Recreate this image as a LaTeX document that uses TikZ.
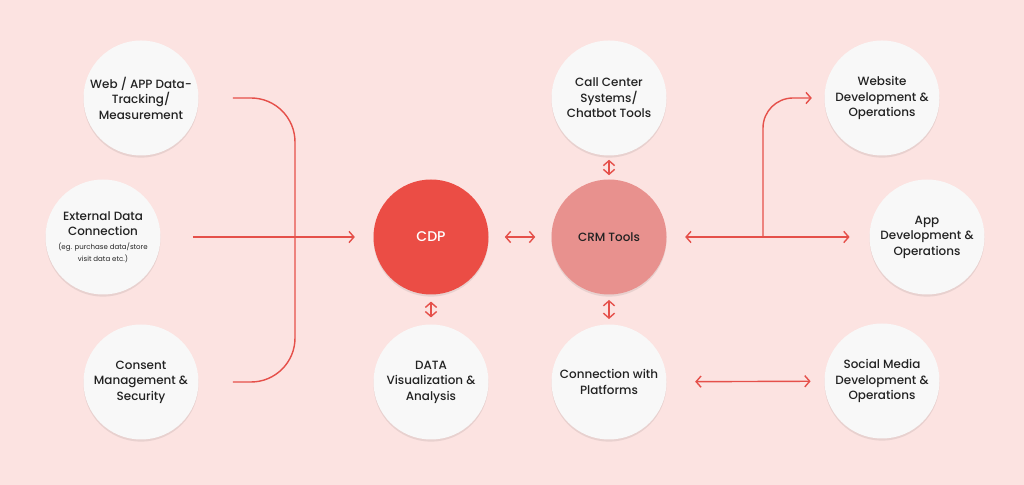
\documentclass[tikz,border=0pt]{standalone}
\usepackage{fontspec}
\setmainfont{Poppins}[BoldFont={Poppins Medium}]
\definecolor{bgpink}{HTML}{FCE3E1}
\definecolor{cdpred}{HTML}{EB4D45}
\definecolor{crmpink}{HTML}{E8918E}
\definecolor{linered}{HTML}{E5504A}
\definecolor{bubblewhite}{HTML}{F8F8F8}
\definecolor{textdark}{HTML}{222222}
\usetikzlibrary{arrows.meta, positioning, shadows}
\tikzstyle{arrow} = [
  <->, >={Straight Barb[length=3.5pt,width=8pt]}, line width=1pt, color=linered
]
\tikzstyle{line} = [line width=1pt, color=linered]

\begin{document}
\begin{tikzpicture}[
  every node/.style={font=\fontsize{8.5}{11}\selectfont\bfseries, text=textdark},
  bubble/.style={circle, fill=bubblewhite, minimum size=2.875cm, inner sep=0pt,
                 align=center,
                 drop shadow={shadow xshift=0pt, shadow yshift=-1.5pt,
                              opacity=0.08, fill=black}},
  cdpbubble/.style={bubble, fill=cdpred, text=white,
                    font=\fontsize{10}{12}\selectfont\bfseries},
  crmbubble/.style={bubble, fill=crmpink},
  small/.style={font=\fontsize{5}{6.5}\selectfont},
]
  \fill[bgpink] (0,0) rectangle (25.6,12.125);
  \useasboundingbox (0,0) rectangle (25.6,12.125);

  % sources
  \node[bubble] (web)     at (3.525,9.675) {Web / APP Data-\\Tracking/\\Measurement};
  \node[bubble] (ext)     at (2.575,6.2)   {External Data\\Connection\\[-1pt]
    {\fontsize{5}{6.5}\selectfont\mdseries (eg. purchase data/store}\\[-3pt]
    {\fontsize{5}{6.5}\selectfont\mdseries visit data etc.)}};
  \node[bubble] (consent) at (3.525,2.575) {Consent\\Management \&\\Security};

  % core
  \node[cdpbubble] (cdp)     at (10.775,6.2)  {CDP};
  \node[bubble]    (dataviz) at (10.775,2.575) {DATA\\Visualization \&\\Analysis};
  \node[crmbubble] (crm)     at (15.225,6.2)  {CRM Tools};
  \node[bubble]    (call)    at (15.225,9.675) {Call Center\\Systems/\\Chatbot Tools};
  \node[bubble]    (conn)    at (15.225,2.575) {Connection with\\Platforms};

  % channels
  \node[bubble] (website) at (22.05,9.675)  {Website\\Development \&\\Operations};
  \node[bubble] (app)     at (23.175,6.2)   {App\\Development \&\\Operations};
  \node[bubble] (social)  at (22.05,2.6)    {Social Media\\Development \&\\Operations};

  \coordinate (bracket) at (7.375,6.2);
  \coordinate (branch)  at (19.075,6.2);

  \draw[line, rounded corners=1.1cm, shorten <=0.85cm, shorten >=0.85cm]
    (web.east) -| (bracket) |- (consent.east);
  \draw[arrow, ->, shorten <=0.8cm, shorten >=0.46cm] (ext) -- (cdp);
  \draw[arrow, shorten <=0.4cm, shorten >=0.4cm]   (cdp)  -- (crm);
  \draw[arrow, shorten <=0.17cm, shorten >=0.17cm] (cdp)  -- (dataviz);
  \draw[arrow, shorten <=0.1cm, shorten >=0.1cm]   (call) -- (crm);
  \draw[arrow, shorten <=0.13cm, shorten >=0.13cm] (crm)  -- (conn);
  \draw[arrow, shorten <=0.46cm, shorten >=0.49cm] (crm)  -- (app);
  \draw[arrow, ->, rounded corners=0.75cm, shorten >=0.31cm] (branch) |- (website);
  \draw[arrow, shorten <=0.71cm, shorten >=0.34cm] (conn) -- (social);
\end{tikzpicture}
\end{document}
